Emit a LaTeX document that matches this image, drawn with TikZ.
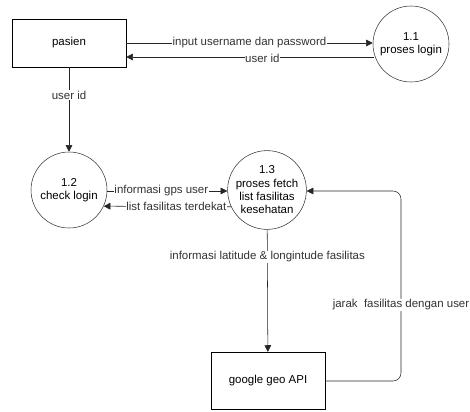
\documentclass[tikz,border=0pt]{standalone}
\usepackage{fontspec}
\setmainfont{Liberation Sans}
\usetikzlibrary{positioning}
\usetikzlibrary{arrows.meta}
\tikzset{
    entbox/.style = {rectangle, draw=black, align=center, minimum width=85.5pt, minimum height=36pt, inner sep=0pt},
    procnode/.style = {circle, draw=black!80, align=center, minimum size=57pt, inner sep=0pt},
    flow/.style = {-{Triangle[length=5pt,width=5pt]}, black!85},
    flowr/.style = {-{Triangle[length=5pt,width=5pt]}, black!85, rounded corners=6pt},
    flowlab/.style = {fill=white, inner sep=0.5pt, text=black!80},
    every picture/.style={font issue=\fontsize{8.6}{10}},
    font issue/.style={execute at begin picture={#1\selectfont}}
}
\begin{document}
\begin{tikzpicture}[x=0.75pt,y=-0.75pt]
\path[use as bounding box] (0,0) rectangle (470,411);
\node[entbox] at (69,43) (pasien) {pasien};
\node[procnode] at (411,44) (login) {1.1\\proses login};
\node[procnode] at (69,190) (check) {1.2\\check login};
\node[procnode] at (267,190) (fetch) {1.3\\proses fetch\\list fasilitas\\kesehatan};
\node[entbox, minimum height=42.5pt] at (268,380.5) (geo) {google geo API};
%
\coordinate (c1) at (401,381);
\coordinate (c2) at (401,191);
%
\draw[flow] (pasien.east |- 0,43) -- node[flowlab] {input username dan password} (login.west |- 0,43);
\draw[flow] (login.west |- 0,57) ++(1,0) -- node[flowlab, pos=0.45, yshift=-1pt] {user id} (pasien.east |- 0,57);
\draw[flow] (pasien) -- node[flowlab, pos=0.33] {user id} (check);
\draw[flow] (check.east |- 0,191) -- node[flowlab, pos=0.45] {informasi gps user} (fetch.west |- 0,191);
\draw[flow] (fetch.-155) -- node[flowlab, pos=0.43] {list fasilitas terdekat} (check.-25);
\draw[flow] (fetch) -- node[flowlab, pos=0.22] {informasi latitude \& longintude fasilitas} (geo);
\draw[flowr] (geo.east |- c1) -- (c1) -- node[flowlab, pos=0.4] {jarak~ fasilitas dengan user} (c2) -- (fetch.east |- c2);
\end{tikzpicture}
\end{document}
